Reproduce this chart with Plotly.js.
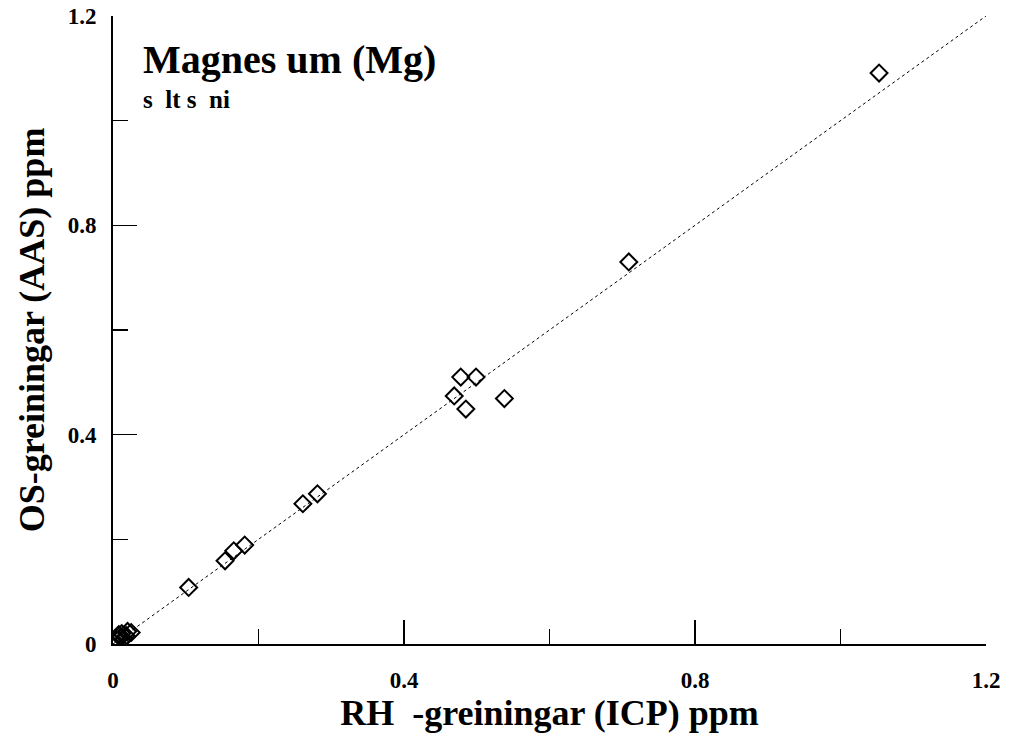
<!DOCTYPE html>
<html>
<head>
<meta charset="utf-8">
<script src="https://cdn.plot.ly/plotly-3.0.1.min.js"></script>
<style>html,body{margin:0;padding:0;background:#fff;}</style>
</head>
<body>
<div id="chart" style="width:1009px;height:735px;"></div>
<script>
// Data
const icpValues = [0.005, 0.008, 0.010, 0.012, 0.015, 0.018, 0.020, 0.025, 0.104, 0.154, 0.166, 0.181, 0.261, 0.281, 0.469, 0.478, 0.485, 0.499, 0.538, 0.709, 1.053];
const aasValues = [0.008, 0.018, 0.012, 0.020, 0.010, 0.016, 0.024, 0.022, 0.108, 0.159, 0.178, 0.189, 0.268, 0.287, 0.474, 0.510, 0.449, 0.510, 0.469, 0.730, 1.091];
const lineX = [0, 1.2];
const lineY = [0, 1.2];
const tickVals = [0, 0.4, 0.8, 1.2];
const tickLabels = ["0", "0.4", "0.8", "1.2"];
const titleText = "Magnes\u00a0um (Mg)";
const subtitleText = "s\u00a0\u00a0lt s\u00a0\u00a0ni";
const xTitle = "RH\u00a0\u00a0-greiningar (ICP) ppm";
const yTitle = "OS-greiningar (AAS) ppm";

const serif = "Liberation Serif";
const b = s => "<b>" + s + "</b>";

const traces = [
  {
    x: lineX, y: lineY, mode: "lines", type: "scatter",
    line: {color: "#000", width: 1, dash: "3px,3px"},
    hoverinfo: "skip", showlegend: false
  },
  {
    x: icpValues, y: aasValues, mode: "markers", type: "scatter",
    marker: {symbol: "diamond-open", size: 13, color: "#000", line: {width: 2, color: "#000"}},
    showlegend: false
  }
];

const axisCommon = {
  range: [0, 1.2],
  tickmode: "array",
  tickvals: tickVals,
  ticktext: tickLabels.map(b),
  ticks: "inside",
  ticklen: 24,
  tickwidth: 1.5,
  tickcolor: "#000",
  showline: true,
  linecolor: "#000",
  linewidth: 2,
  mirror: false,
  showgrid: false,
  zeroline: false,
  tickfont: {family: serif, size: 23, color: "#000"},
  minor: {tickvals: [0.2, 0.6, 1.0], ticks: "inside", ticklen: 15, tickwidth: 1.5, tickcolor: "#000", showgrid: false}
};

const layout = {
  width: 1009, height: 735,
  margin: {l: 113, r: 23, t: 16, b: 91},
  paper_bgcolor: "#fff",
  plot_bgcolor: "#fff",
  font: {family: serif, color: "#000"},
  showlegend: false,
  xaxis: Object.assign({}, axisCommon, {
    ticklabelstandoff: 14,
    title: {text: b(xTitle), font: {family: serif, size: 36, color: "#000"}, standoff: 0}
  }),
  yaxis: Object.assign({}, axisCommon, {
    ticklabelstandoff: 10,
    title: {text: b(yTitle), font: {family: serif, size: 36, color: "#000"}, standoff: 12}
  }),
  annotations: [
    {text: b(titleText), xref: "paper", yref: "paper", x: 0.032, y: 0.97, xanchor: "left", yanchor: "top",
     showarrow: false, font: {family: serif, size: 40, color: "#000"}},
    {text: b(subtitleText), xref: "paper", yref: "paper", x: 0.032, y: 0.892, xanchor: "left", yanchor: "top",
     showarrow: false, font: {family: serif, size: 25, color: "#000"}}
  ]
};

Plotly.newPlot("chart", traces, layout, {displayModeBar: false, staticPlot: true});
</script>
</body>
</html>
